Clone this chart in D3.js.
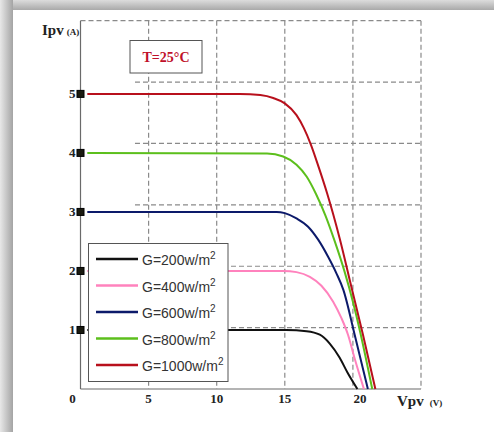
<!DOCTYPE html>
<html>
<head>
<meta charset="utf-8">
<script src="https://cdn.jsdelivr.net/npm/d3@7"></script>
<style>
  html, body { margin: 0; padding: 0; background: #fff; }
  svg { display: block; }
</style>
</head>
<body>
<div id="chart"></div>
<script>
// courbes I-V d'un panneau PV (V en volts, I en ampères)
var seriesNames = ["G=200w/m", "G=400w/m", "G=600w/m", "G=800w/m", "G=1000w/m"];
var seriesColors = ["#111111", "#ff82bd", "#0c1a6a", "#5cbf1c", "#b8101c"];

var curve200 = [[0.5,1],[15.1,1],[16.6,0.98],[17.57,0.92],[18.3,0.77],[19.03,0.53],[19.6,0.28],[20.33,0]];
var curve400 = [[0.5,2],[14.9,2],[15.86,1.98],[16.84,1.9],[17.69,1.75],[18.55,1.48],[19.16,1.2],[19.64,0.92],[20.15,0.5],[20.81,0]];
var curve600 = [[0.5,3],[14.4,3],[15,2.98],[15.86,2.89],[16.71,2.75],[17.45,2.53],[18.18,2.24],[18.79,1.96],[19.3,1.68],[20.13,0.92],[21.1,0]];
var curve800 = [[0.5,4],[13.7,3.99],[14.88,3.94],[15.86,3.8],[16.6,3.6],[17.3,3.3],[18.0,2.93],[18.67,2.5],[19.4,1.98],[20.0,1.48],[20.55,0.95],[21.42,0]];
var curve1000 = [[0.5,5],[11.7,5],[13.2,4.98],[14.15,4.93],[15,4.84],[15.86,4.64],[16.4,4.42],[16.9,4.15],[17.5,3.75],[18.1,3.32],[19.03,2.55],[19.89,1.73],[20.74,0.92],[21.65,0]];
var allCurves = [curve200, curve400, curve600, curve800, curve1000];

var xTicks = [0, 5, 10, 15, 20];
var yTicks = [1, 2, 3, 4, 5];
var xGrid = [5, 10, 15, 20];
var titleText = "T=25°C";

var W = 494, H = 432;
var plot = { left: 80.5, right: 421, top: 20.7, bottom: 389 };

var svg = d3.select("#chart").append("svg")
    .attr("width", W)
    .attr("height", H);

// cadre ombré
var defs = svg.append("defs");
var gTop = defs.append("linearGradient").attr("id", "shTop").attr("x1", 0).attr("y1", 0).attr("x2", 0).attr("y2", 1);
gTop.append("stop").attr("offset", "0%").attr("stop-color", "#dcdcdc");
gTop.append("stop").attr("offset", "100%").attr("stop-color", "#a9a9a9");
var gLeft = defs.append("linearGradient").attr("id", "shLeft").attr("x1", 0).attr("y1", 0).attr("x2", 1).attr("y2", 0);
gLeft.append("stop").attr("offset", "0%").attr("stop-color", "#e8e8e8");
gLeft.append("stop").attr("offset", "100%").attr("stop-color", "#a4a4a4");

svg.append("rect").attr("width", W).attr("height", H).attr("fill", "#fff");
svg.append("rect").attr("x", 0).attr("y", 0).attr("width", W).attr("height", 10).attr("fill", "url(#shTop)");
svg.append("rect").attr("x", 0).attr("y", 0).attr("width", 13).attr("height", H).attr("fill", "url(#shLeft)");

var xScale = d3.scaleLinear().domain([0, 25]).range([plot.left, plot.right]);
var yScale = d3.scaleLinear().domain([0, 6.24]).range([plot.bottom, plot.top]);

var grid = svg.append("g")
    .attr("stroke", "#8a8a8a")
    .attr("stroke-width", 1.2)
    .attr("stroke-dasharray", "5,3")
    .attr("fill", "none");

// grille verticale
grid.selectAll(".vgrid")
    .data(xGrid)
    .enter().append("line")
    .attr("x1", function(d) { return xScale(d); })
    .attr("x2", function(d) { return xScale(d); })
    .attr("y1", plot.top)
    .attr("y2", plot.bottom);

// grille horizontale (6 divisions égales)
var hLines = d3.range(1, 6).map(function(k) { return plot.bottom - k * (plot.bottom - plot.top) / 6; });
grid.selectAll(".hgrid")
    .data(hLines)
    .enter().append("line")
    .attr("x1", xScale(4))
    .attr("x2", plot.right)
    .attr("y1", function(d) { return d; })
    .attr("y2", function(d) { return d; });

// bord haut et droit en pointillés
grid.append("line").attr("x1", plot.left).attr("x2", plot.right).attr("y1", plot.top).attr("y2", plot.top);
grid.append("line").attr("x1", plot.right).attr("x2", plot.right).attr("y1", plot.top).attr("y2", plot.bottom);

// axes pleins
svg.append("line").attr("x1", plot.left).attr("x2", plot.left).attr("y1", plot.top).attr("y2", plot.bottom)
    .attr("stroke", "#6a6a6a").attr("stroke-width", 1.2);
svg.append("line").attr("x1", plot.left).attr("x2", plot.right).attr("y1", plot.bottom).attr("y2", plot.bottom)
    .attr("stroke", "#6a6a6a").attr("stroke-width", 1.2);

// boîte du titre
svg.append("rect")
    .attr("x", 130).attr("y", 40.5).attr("width", 72).attr("height", 32.5)
    .attr("fill", "#fff").attr("stroke", "#555").attr("stroke-width", 1);
svg.append("text")
    .attr("x", 166).attr("y", 62)
    .attr("text-anchor", "middle")
    .attr("font-family", "'Liberation Serif', 'DejaVu Serif', serif")
    .attr("font-size", 14)
    .attr("font-weight", "bold")
    .attr("fill", "#c0102a")
    .text(titleText);

// courbes
var line = d3.line()
    .curve(d3.curveMonotoneX)
    .x(function(d) { return xScale(d[0]); })
    .y(function(d) { return yScale(d[1]); });

svg.append("g").selectAll("path")
    .data(allCurves)
    .enter().append("path")
    .attr("fill", "none")
    .attr("stroke", function(d, i) { return seriesColors[i]; })
    .attr("stroke-width", 2)
    .attr("stroke-linejoin", "round")
    .attr("d", line);

// graduations Y avec petits carrés
var serif = "'Liberation Serif', 'DejaVu Serif', serif";
var yt = svg.append("g");
yt.selectAll("rect")
    .data(yTicks)
    .enter().append("rect")
    .attr("x", plot.left - 3.5)
    .attr("y", function(d) { return yScale(d) - 3.5; })
    .attr("width", 7).attr("height", 7)
    .attr("fill", "#1a1a10").attr("stroke", "#000").attr("stroke-width", 1);
yt.selectAll("text")
    .data(yTicks)
    .enter().append("text")
    .attr("x", plot.left - 5)
    .attr("y", function(d) { return yScale(d) + 4.5; })
    .attr("text-anchor", "end")
    .attr("font-family", serif)
    .attr("font-weight", "bold")
    .attr("font-size", 13)
    .attr("fill", "#222")
    .text(function(d) { return d; });

// graduations X
svg.append("g").selectAll("text")
    .data(xTicks)
    .enter().append("text")
    .attr("x", function(d) { return d === 0 ? xScale(d) - 8 : xScale(d) + (d === 20 ? 7 : 0); })
    .attr("y", 403)
    .attr("text-anchor", "middle")
    .attr("font-family", serif)
    .attr("font-weight", "bold")
    .attr("font-size", 13)
    .attr("fill", "#222")
    .text(function(d) { return d; });

// titres d'axes
var yLab = svg.append("text")
    .attr("x", 42).attr("y", 35)
    .attr("font-family", serif).attr("font-weight", "bold").attr("fill", "#222");
yLab.append("tspan").attr("font-size", 15).text("Ipv");
yLab.append("tspan").attr("font-size", 9).attr("dx", 3).text("(A)");

var xLab = svg.append("text")
    .attr("x", 397).attr("y", 406)
    .attr("font-family", serif).attr("font-weight", "bold").attr("fill", "#222");
xLab.append("tspan").attr("font-size", 15).text("Vpv");
xLab.append("tspan").attr("font-size", 9).attr("dx", 6).text("(V)");

// légende
var legend = svg.append("g");
legend.append("rect")
    .attr("x", 88.5).attr("y", 243.5).attr("width", 139.5).attr("height", 138)
    .attr("fill", "#fff").attr("stroke", "#555").attr("stroke-width", 1);

var items = legend.selectAll(".item")
    .data(seriesNames)
    .enter().append("g")
    .attr("transform", function(d, i) { return "translate(0," + (259 + i * 26.5) + ")"; });
items.append("line")
    .attr("x1", 96).attr("x2", 138)
    .attr("stroke", function(d, i) { return seriesColors[i]; })
    .attr("stroke-width", 2.5);
var lt = items.append("text")
    .attr("x", 142).attr("y", 6)
    .attr("font-family", "'Liberation Sans', Arial, sans-serif")
    .attr("font-size", 14)
    .attr("fill", "#333");
lt.append("tspan").text(function(d) { return d; });
lt.append("tspan").attr("font-size", 10).attr("dy", -6).text("2");
</script>
</body>
</html>
